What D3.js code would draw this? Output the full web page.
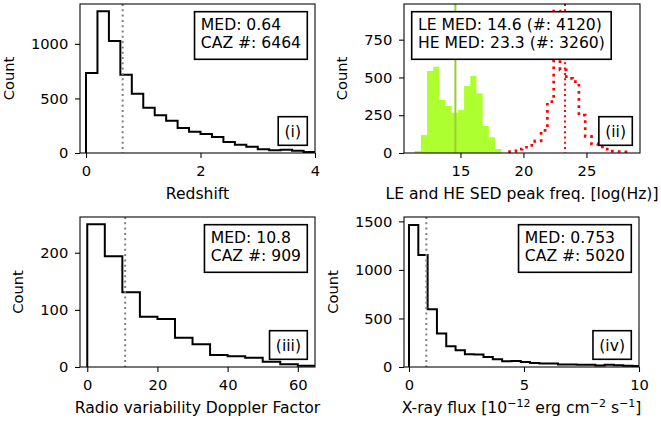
<!DOCTYPE html>
<html>
<head>
<meta charset="utf-8">
<script src="https://cdn.jsdelivr.net/npm/d3@7"></script>
<style>
  body { margin: 0; background: #fff; }
  svg { font-family: "DejaVu Sans", sans-serif; }
</style>
</head>
<body>
<script>
// (i) redshift
var zEdges = [0, 0.2, 0.4, 0.6, 0.8, 1.0, 1.2, 1.4, 1.6, 1.8, 2.0, 2.2, 2.4, 2.6, 2.8, 3.0, 3.2, 3.4, 3.6, 3.8, 4.0];
var zCounts = [732, 1299, 1025, 716, 543, 415, 345, 296, 229, 195, 174, 146, 101, 76, 58, 34, 25, 30, 20, 10];
var zMed = 0.64;

// (ii) LE / HE SED peak frequency
var leEdges = [11.37, 11.86, 12.35, 12.84, 13.33, 13.82, 14.31, 14.80, 15.29, 15.78, 16.27, 16.76, 17.25, 17.74, 18.23];
var leCounts = [13, 119, 543, 571, 351, 311, 267, 285, 443, 510, 395, 179, 104, 26];
var heEdges = [18.9, 19.4, 19.9, 20.4, 20.9, 21.4, 21.9, 22.4, 22.9, 23.4, 23.9, 24.4, 24.9, 25.4, 25.9, 26.4, 26.9, 27.4, 27.9, 28.4];
var heCounts = [10, 25, 38, 50, 80, 150, 340, 939, 550, 494, 472, 250, 110, 60, 40, 25, 12, 10, 8];
var leMed = 14.6, heMed = 23.3;

// (iii) Doppler factor
var dEdges = [0, 5, 10, 15, 20, 25, 30, 35, 40, 45, 50, 55, 60, 65];
var dCounts = [250, 194, 131, 88, 84, 51, 40, 21, 19, 16, 9, 5, 2];
var dMed = 10.8;

// (iv) X-ray flux
var fEdges = [0, 0.405, 0.81, 1.215, 1.62, 2.025, 2.43, 2.835, 3.24, 3.645, 4.05, 4.455, 4.86, 5.265, 5.67, 6.075, 6.48, 6.885, 7.29, 7.695, 8.1, 8.505, 8.91, 9.315, 9.72, 10.125];
var fCounts = [1462, 1153, 595, 345, 214, 172, 131, 128, 103, 79, 59, 62, 52, 41, 35, 35, 25, 25, 22, 22, 15, 22, 17, 14, 10];
var fMed = 0.753;

var tickFont = 14.7, boxFont = 15.6, labelFont = 15.6;

var svg = d3.select("body").append("svg")
  .attr("width", 661).attr("height", 425);

function stepPoints(edges, counts) {
  var pts = [[edges[0], 0]];
  counts.forEach(function(c, i) {
    pts.push([edges[i], c]);
    pts.push([edges[i + 1], c]);
  });
  pts.push([edges[edges.length - 1], 0]);
  return pts;
}

function makePanel(o) {
  var x = d3.scaleLinear().domain(o.xDomain).range([o.left, o.right]);
  var y = d3.scaleLinear().domain(o.yDomain).range([o.bottom, o.top]);
  var g = svg.append("g");
  var clipId = "clip-" + o.name;
  svg.append("clipPath").attr("id", clipId)
    .append("rect")
    .attr("x", o.left).attr("y", o.top)
    .attr("width", o.right - o.left).attr("height", o.bottom - o.top);
  var plot = g.append("g").attr("clip-path", "url(#" + clipId + ")");

  // axes
  var xa = g.append("g").attr("transform", "translate(0," + o.bottom + ")")
    .call(d3.axisBottom(x).tickValues(o.xTicks).tickSize(5).tickPadding(7.6).tickFormat(d3.format("d")));
  var ya = g.append("g").attr("transform", "translate(" + o.left + ",0)")
    .call(d3.axisLeft(y).tickValues(o.yTicks).tickSize(5).tickPadding(6.7).tickFormat(d3.format("d")));
  [xa, ya].forEach(function(a) {
    a.select(".domain").remove();
    a.selectAll("line").attr("stroke", "#000").attr("stroke-width", 1.07);
    a.selectAll("text").attr("fill", "#000").style("font-size", tickFont + "px")
      .style("font-family", "'DejaVu Sans', sans-serif");
  });

  // y label next to the widest tick label
  var minX = d3.min(ya.selectAll("text").nodes(), function(n) {
    return n.getBBox().x;
  }) + o.left;
  g.append("text")
    .attr("transform", "translate(" + (minX - 17) + "," + ((o.top + o.bottom) / 2) + ") rotate(-90)")
    .attr("text-anchor", "middle")
    .style("font-size", tickFont + "px")
    .text("Count");

  var xl = g.append("text")
    .attr("x", (o.left + o.right) / 2).attr("y", o.bottom + 46)
    .attr("text-anchor", "middle")
    .style("font-size", labelFont + "px");
  o.xLabel(xl);

  return { x: x, y: y, g: g, plot: plot, o: o };
}

function stepLine(p, edges, counts, color, width, dash) {
  var line = d3.line().x(function(d) { return p.x(d[0]); }).y(function(d) { return p.y(d[1]); });
  p.plot.append("path")
    .attr("d", line(stepPoints(edges, counts)))
    .attr("fill", "none").attr("stroke", color)
    .attr("stroke-width", width)
    .attr("stroke-dasharray", dash || null);
}

function vline(p, v, color, width, dash) {
  p.plot.append("line")
    .attr("x1", p.x(v)).attr("x2", p.x(v))
    .attr("y1", p.o.top).attr("y2", p.o.bottom)
    .attr("stroke", color).attr("stroke-width", width)
    .attr("stroke-dasharray", dash || null);
}

function frame(p) {
  var o = p.o;
  p.g.append("rect")
    .attr("x", o.left).attr("y", o.top)
    .attr("width", o.right - o.left).attr("height", o.bottom - o.top)
    .attr("fill", "none").attr("stroke", "#000").attr("stroke-width", 1.07);
}

// text box; corner is "ur", "ul" or "lr"
function textBox(p, lines, corner) {
  var o = p.o, pad = 6.3, inset = 7.7, lh = 18.3;
  var bg = p.g.append("g");
  var rect = bg.append("rect").attr("fill", "#fff").attr("stroke", "#000").attr("stroke-width", 1.6);
  var texts = lines.map(function(s) {
    return bg.append("text").style("font-size", boxFont + "px").text(s);
  });
  var w = d3.max(texts, function(t) { return t.node().getComputedTextLength(); }) + 2 * pad;
  var h = lines.length === 1 ? 28.6 : 47.6;
  var bx = corner === "ul" ? o.left + inset : o.right - inset - w;
  var by = corner === "lr" ? o.bottom - inset - h : o.top + inset;
  rect.attr("x", bx).attr("y", by).attr("width", w).attr("height", h);
  texts.forEach(function(t, i) {
    if (lines.length === 1) {
      t.attr("x", bx + w / 2).attr("text-anchor", "middle").attr("y", by + h / 2 + 5.6);
    } else {
      t.attr("x", bx + pad).attr("y", by + lh * (i + 1));
    }
  });
}

var dotted = "2,3.3";

// (i)
var p1 = makePanel({
  name: "i", left: 80, right: 315, top: 4, bottom: 153,
  xDomain: [-0.105, 4], yDomain: [0, 1365],
  xTicks: [0, 2, 4], yTicks: [0, 500, 1000],
  xLabel: function(t) { t.text("Redshift"); }
});
stepLine(p1, zEdges, zCounts, "#000", 2);
vline(p1, zMed, "gray", 2, dotted);
frame(p1);
textBox(p1, ["MED: " + zMed, "CAZ #: 6464"], "ur");
textBox(p1, ["(i)"], "lr");

// (ii)
var p2 = makePanel({
  name: "ii", left: 404, right: 640, top: 4, bottom: 153,
  xDomain: [10.52, 29.25], yDomain: [0, 986],
  xTicks: [15, 20, 25], yTicks: [0, 250, 500, 750],
  xLabel: function(t) { t.text("LE and HE SED peak freq. [log(Hz)]"); }
});
var area = d3.area()
  .x(function(d) { return p2.x(d[0]); })
  .y0(p2.y(0))
  .y1(function(d) { return p2.y(d[1]); });
p2.plot.append("path")
  .attr("d", area(stepPoints(leEdges, leCounts)))
  .attr("fill", "#adff2f");
stepLine(p2, heEdges, heCounts, "red", 2.7, "2.7,4.4");
vline(p2, leMed, "#9acd32", 2);
vline(p2, heMed, "red", 2, dotted);
frame(p2);
textBox(p2, ["LE MED: " + leMed + " (#: 4120)", "HE MED: " + heMed + " (#: 3260)"], "ul");
textBox(p2, ["(ii)"], "lr");

// (iii)
var p3 = makePanel({
  name: "iii", left: 80, right: 315, top: 217, bottom: 367,
  xDomain: [-2.07, 64.9], yDomain: [0, 262.5],
  xTicks: [0, 20, 40, 60], yTicks: [0, 100, 200],
  xLabel: function(t) { t.text("Radio variability Doppler Factor"); }
});
stepLine(p3, dEdges, dCounts, "#000", 2);
vline(p3, dMed, "gray", 2, dotted);
frame(p3);
textBox(p3, ["MED: " + dMed, "CAZ #: 909"], "ur");
textBox(p3, ["(iii)"], "lr");

// (iv)
var p4 = makePanel({
  name: "iv", left: 404, right: 639, top: 217, bottom: 367,
  xDomain: [-0.217, 10], yDomain: [0, 1545],
  xTicks: [0, 5, 10], yTicks: [0, 500, 1000, 1500],
  xLabel: function(t) {
    t.append("tspan").text("X-ray flux [10");
    t.append("tspan").attr("dy", -6.5).style("font-size", "11px").text("\u221212");
    t.append("tspan").attr("dy", 6.5).text(" erg cm");
    t.append("tspan").attr("dy", -6.5).style("font-size", "11px").text("\u22122");
    t.append("tspan").attr("dy", 6.5).text(" s");
    t.append("tspan").attr("dy", -6.5).style("font-size", "11px").text("\u22121");
    t.append("tspan").attr("dy", 6.5).text("]");
  }
});
stepLine(p4, fEdges, fCounts, "#000", 2);
vline(p4, fMed, "gray", 2, dotted);
frame(p4);
textBox(p4, ["MED: " + fMed, "CAZ #: 5020"], "ur");
textBox(p4, ["(iv)"], "lr");
</script>
</body>
</html>
